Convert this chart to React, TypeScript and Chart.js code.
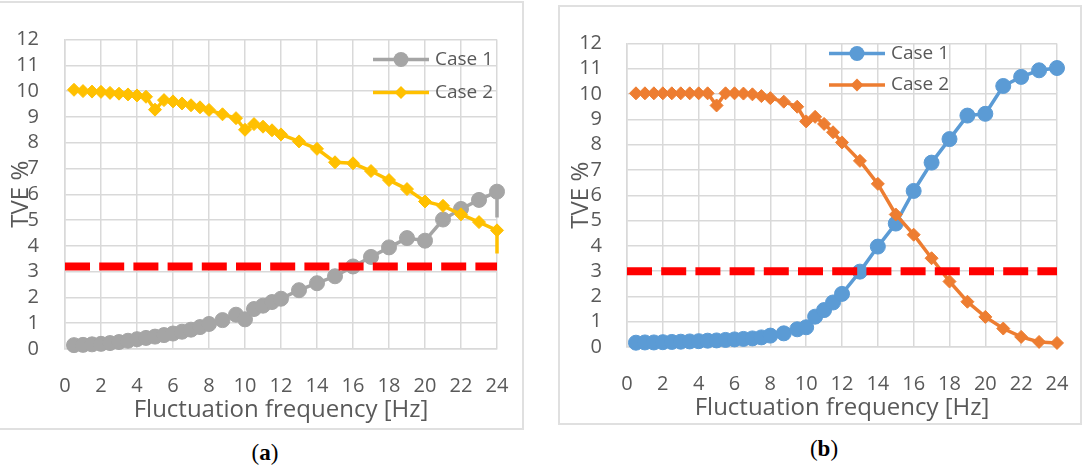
import React, { useEffect, useRef } from "react";
import { Chart, registerables } from "chart.js";

Chart.register(...registerables);

// ---------- data ----------
const frequencies = [
  0.5, 1, 1.5, 2, 2.5, 3, 3.5, 4, 4.5, 5, 5.5, 6, 6.5, 7, 7.5, 8, 8.75, 9.5, 10,
  10.5, 11, 11.5, 12, 13, 14, 15, 16, 17, 18, 19, 20, 21, 22, 23, 24,
];

const aCase1 = [
  0.15, 0.16, 0.18, 0.2, 0.23, 0.27, 0.32, 0.38, 0.43, 0.48, 0.54, 0.6, 0.67,
  0.75, 0.85, 0.97, 1.12, 1.33, 1.15, 1.55, 1.68, 1.82, 1.95, 2.28, 2.55, 2.82,
  3.2, 3.57, 3.94, 4.3, 4.2, 5.02, 5.43, 5.78, 6.1,
];
const aCase1Tail = 5.1;

const aCase2 = [
  10.05, 10.0, 9.98, 9.97, 9.93, 9.9, 9.87, 9.83, 9.78, 9.28, 9.65, 9.6, 9.52,
  9.45, 9.37, 9.27, 9.1, 8.95, 8.5, 8.72, 8.62, 8.48, 8.32, 8.05, 7.76, 7.24,
  7.2, 6.9, 6.55, 6.2, 5.72, 5.55, 5.22, 4.92, 4.6,
];
const aCase2Tail = 3.7;

const bCase1 = [
  0.17, 0.18, 0.18, 0.19, 0.2, 0.21, 0.22, 0.23, 0.25, 0.26, 0.28, 0.3, 0.32,
  0.34, 0.38, 0.45, 0.54, 0.7, 0.78, 1.2, 1.46, 1.76, 2.1, 2.98, 3.97, 4.88,
  6.17, 7.29, 8.22, 9.15, 9.22, 10.32, 10.68, 10.94, 11.03,
];

const bCase2 = [
  10.03, 10.03, 10.03, 10.03, 10.03, 10.03, 10.03, 10.03, 10.03, 9.55, 10.03,
  10.03, 10.02, 9.99, 9.92, 9.84, 9.7, 9.5, 8.92, 9.1, 8.82, 8.49, 8.09, 7.36,
  6.45, 5.24, 4.44, 3.51, 2.59, 1.79, 1.19, 0.73, 0.4, 0.2, 0.16,
];

const thresholdA = 3.2;
const thresholdB = 3.0;

const xRange = [0, 24];
const xStep = 2;
const yRange = [0, 12];
const yStep = 1;

const seriesLabels = ["Case 1", "Case 2"];
const yTitle = "TVE %";
const xTitle = "Fluctuation frequency [Hz]";

// ---------- styling ----------
const FONT = "'Open Sans', 'DejaVu Sans', sans-serif";
const TEXT = "#595959";
const GRID = "#d9d9d9";

type Series = {
  label: string;
  values: number[];
  tail?: number;
  color: string;
  style: "circle" | "rectRot";
  radius: number;
};

type PanelProps = {
  left: number;
  top: number;
  width: number;
  height: number;
  padTop: number;
  padRight: number;
  yWidth: number;
  xHeight: number;
  yTickPad: number;
  yTitleOffset: number;
  series: Series[];
  threshold: number;
  legendX: number;
  legendY: number[];
};

function toPoints(s: Series) {
  const pts = frequencies.map((x, i) => ({ x, y: s.values[i] }));
  if (s.tail !== undefined) {
    pts.push({ x: frequencies[frequencies.length - 1], y: s.tail });
  }
  return pts;
}

function drawMarker(ctx: CanvasRenderingContext2D, style: string, x: number, y: number, r: number, color: string) {
  ctx.save();
  ctx.fillStyle = color;
  ctx.beginPath();
  if (style === "circle") {
    ctx.arc(x, y, r, 0, Math.PI * 2);
  } else {
    ctx.moveTo(x, y - r);
    ctx.lineTo(x + r, y);
    ctx.lineTo(x, y + r);
    ctx.lineTo(x - r, y);
    ctx.closePath();
  }
  ctx.fill();
  ctx.restore();
}

function Panel(props: PanelProps) {
  const ref = useRef<HTMLCanvasElement | null>(null);

  useEffect(() => {
    const canvas = ref.current;
    if (!canvas) return;

    const datasets: any[] = props.series.map((s, idx) => {
      const pts = toPoints(s);
      const last = pts.length - 1;
      return {
        label: s.label,
        data: pts,
        borderColor: s.color,
        backgroundColor: s.color,
        borderWidth: 3.5,
        pointStyle: s.style,
        pointRadius: (c: any) => (s.tail !== undefined && c.dataIndex === last ? 0 : s.radius),
        pointBorderWidth: 1,
        pointBorderColor: s.color,
        pointBackgroundColor: s.color,
        tension: 0,
        clip: false,
        order: 2 - idx,
      };
    });

    datasets.push({
      label: "limit",
      data: [
        { x: xRange[0], y: props.threshold },
        { x: xRange[1], y: props.threshold },
      ],
      borderColor: "#ff0000",
      borderWidth: 8,
      borderDash: [25, 9.2],
      borderCapStyle: "butt",
      pointRadius: 0,
      tension: 0,
      order: -1,
    });

    const decor = {
      id: "decor",
      afterDraw(chart: any) {
        const ctx: CanvasRenderingContext2D = chart.ctx;
        const ca = chart.chartArea;
        ctx.save();
        props.series.forEach((s, i) => {
          const y = ca.top + props.legendY[i];
          const x0 = ca.right + props.legendX;
          const x1 = x0 + 56;
          ctx.strokeStyle = s.color;
          ctx.lineWidth = 3.5;
          ctx.beginPath();
          ctx.moveTo(x0, y);
          ctx.lineTo(x1, y);
          ctx.stroke();
          drawMarker(ctx, s.style, (x0 + x1) / 2, y, s.radius, s.color);
          ctx.fillStyle = TEXT;
          ctx.font = `19px ${FONT}`;
          ctx.textAlign = "left";
          ctx.textBaseline = "middle";
          ctx.fillText(s.label, x1 + 6, y);
        });
        ctx.fillStyle = TEXT;
        ctx.font = `24px ${FONT}`;
        ctx.textAlign = "center";
        ctx.textBaseline = "middle";
        ctx.save();
        ctx.translate(ca.left - props.yTitleOffset, (ca.top + ca.bottom) / 2);
        ctx.rotate(-Math.PI / 2);
        ctx.fillText(yTitle, 0, 0);
        ctx.restore();
        ctx.fillText(xTitle, (ca.left + ca.right) / 2, ca.bottom + 61);
        ctx.restore();
      },
    };

    const chart = new Chart(canvas, {
      type: "line",
      data: { datasets },
      options: {
        responsive: false,
        animation: false,
        devicePixelRatio: 1,
        layout: {
          padding: { top: props.padTop, right: props.padRight, left: 0, bottom: 0 },
        },
        plugins: {
          legend: { display: false },
          tooltip: { enabled: false },
          title: { display: false },
        },
        scales: {
          x: {
            type: "linear",
            min: xRange[0],
            max: xRange[1],
            ticks: {
              stepSize: xStep,
              color: TEXT,
              font: { family: FONT, size: 20 },
              padding: 25,
              maxRotation: 0,
              autoSkip: false,
            },
            grid: { color: GRID, lineWidth: 1.5, drawTicks: false },
            border: { display: true, color: GRID, width: 1.5 },
            afterFit: (s: any) => {
              s.height = props.xHeight;
              s.paddingLeft = 0;
              s.paddingRight = 0;
            },
          },
          y: {
            type: "linear",
            min: yRange[0],
            max: yRange[1],
            ticks: {
              stepSize: yStep,
              color: TEXT,
              font: { family: FONT, size: 20 },
              padding: props.yTickPad,
              autoSkip: false,
            },
            grid: { color: GRID, lineWidth: 1.5, drawTicks: false },
            border: { display: true, color: GRID, width: 1.5 },
            afterFit: (s: any) => {
              s.width = props.yWidth;
              s.paddingTop = 0;
              s.paddingBottom = 0;
            },
          },
        },
      } as any,
      plugins: [decor],
    });

    return () => chart.destroy();
  }, []);

  return (
    <>
      <canvas
        ref={ref}
        width={props.width}
        height={props.height}
        style={{
          position: "absolute",
          left: props.left,
          top: props.top,
          width: props.width,
          height: props.height,
          display: "block",
        }}
      />
      <div
        style={{
          position: "absolute",
          left: props.left,
          top: props.top,
          width: props.width,
          height: props.height,
          boxSizing: "border-box",
          border: "2px solid #e0e0e0",
          pointerEvents: "none",
        }}
      />
    </>
  );
}

function Caption({ letter, cx, cy }: { letter: string; cx: number; cy: number }) {
  return (
    <div
      style={{
        position: "absolute",
        left: cx - 40,
        top: cy - 15,
        width: 80,
        height: 30,
        lineHeight: "30px",
        textAlign: "center",
        fontFamily: "'Liberation Serif', 'DejaVu Serif', serif",
        fontSize: 23,
        color: "#000",
      }}
    >
      (<b>{letter}</b>)
    </div>
  );
}

export default function App() {
  const seriesA: Series[] = [
    { label: seriesLabels[0], values: aCase1, tail: aCase1Tail, color: "#a5a5a5", style: "circle", radius: 7.5 },
    { label: seriesLabels[1], values: aCase2, tail: aCase2Tail, color: "#ffc000", style: "rectRot", radius: 6.5 },
  ];
  const seriesB: Series[] = [
    { label: seriesLabels[0], values: bCase1, color: "#5b9bd5", style: "circle", radius: 7.5 },
    { label: seriesLabels[1], values: bCase2, color: "#ed7d31", style: "rectRot", radius: 6.5 },
  ];

  return (
    <div
      style={{
        position: "absolute",
        left: 0,
        top: 0,
        width: 1090,
        height: 470,
        background: "#fff",
        overflow: "hidden",
      }}
    >
      <Panel
        left={-4}
        top={1}
        width={528}
        height={429}
        padTop={38.5}
        padRight={27}
        yWidth={69}
        xHeight={81}
        yTickPad={26}
        yTitleOffset={44}
        series={seriesA}
        threshold={thresholdA}
        legendX={-124}
        legendY={[20, 53]}
      />
      <Panel
        left={558}
        top={5}
        width={524}
        height={420}
        padTop={38.5}
        padRight={25}
        yWidth={69}
        xHeight={78}
        yTickPad={25}
        yTitleOffset={46}
        series={seriesB}
        threshold={thresholdB}
        legendX={-228}
        legendY={[10, 41.5]}
      />
      <Caption letter="a" cx={265} cy={453} />
      <Caption letter="b" cx={824} cy={449} />
    </div>
  );
}
